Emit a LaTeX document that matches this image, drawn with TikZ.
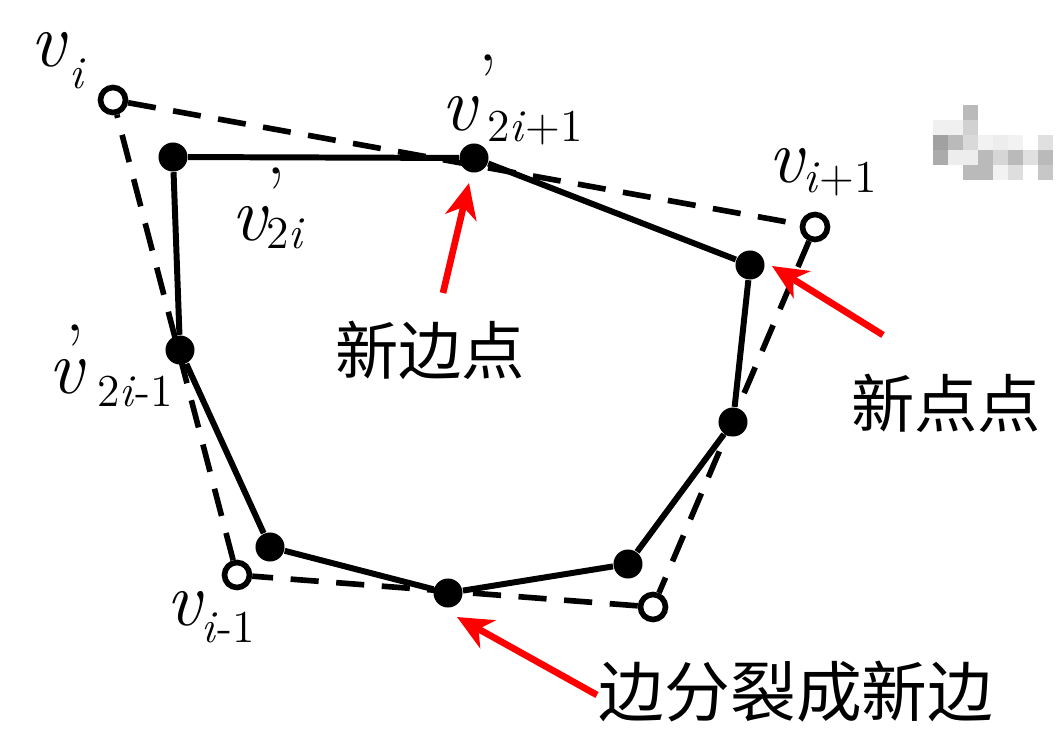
\documentclass[tikz,border=0pt]{standalone}
\usepackage{fontspec}
\newfontfamily\cjk{Noto Sans CJK SC}
\usetikzlibrary{arrows.meta}
\newcommand\vv{{\rmfamily\fontsize{22}{22}\selectfont\itshape\addfontfeature{FakeBold=1.2}v}}
\newcommand\sbs[2]{\raisebox{-#1}{\rmfamily\fontsize{13}{13}\selectfont\addfontfeature{FakeBold=0.8}#2}}
\begin{document}
\begin{tikzpicture}[x=0.01cm,y=-0.01cm,
  dot/.style={circle,fill=black,inner sep=0pt,minimum size=0.29cm},
  odot/.style={circle,draw=black,fill=white,line width=1.6pt,inner sep=0pt,minimum size=0.25cm},
  solidline/.style={line width=1.7pt,line join=round},
  dashline/.style={line width=1.6pt,dash pattern=on 8pt off 5pt},
  redarrow/.style={red,line width=1.9pt,-{Stealth[length=10pt,width=9pt,inset=3pt]}},
  lbl/.style={inner sep=0pt,anchor=base west},
  prm/.style={inner sep=0pt,anchor=base,font=\rmfamily\fontsize{22}{22}\selectfont\addfontfeature{FakeBold=1.5}},
  cn/.style={inner sep=0pt,font=\cjk\fontsize{18}{18}\selectfont}]
\useasboundingbox (0,0) rectangle (1060,745);

% blurred mark, top right
\foreach \x/\y/\g in {963/105/27, 933/120/6, 948/120/6, 963/120/18,
  933/135/37, 948/135/27, 963/135/15, 978/135/5, 993/135/7, 1008/135/5, 1038/135/12,
  933/150/33, 948/150/7, 963/150/7, 978/150/27, 993/150/16, 1008/150/27, 1023/150/12, 1038/150/27,
  963/165/27, 978/165/27, 993/165/5, 1008/165/13, 1038/165/22}
  \fill[black!\g] (\x,\y) rectangle +(15,15);

% original vertices
\node[odot] (o1) at (113,100) {};
\node[odot] (o2) at (815,227) {};
\node[odot] (o3) at (653,607) {};
\node[odot] (o4) at (237,575) {};

% new vertices
\node[dot] (d1) at (173,157) {};
\node[dot] (d2) at (474,158) {};
\node[dot] (d3) at (750,265) {};
\node[dot] (d4) at (733,422) {};
\node[dot] (d5) at (628,564) {};
\node[dot] (d6) at (448,593) {};
\node[dot] (d7) at (270,547) {};
\node[dot] (d8) at (180,350) {};

\draw[dashline] (o1) -- (o2);
\draw[dashline] (o2) -- (o3);
\draw[dashline] (o3) -- (o4);
\draw[dashline] (o4) -- (o1);

\draw[solidline] (d1) -- (d2) -- (d3) -- (d4) -- (d5) -- (d6) -- (d7) -- (d8) -- (d1);

% labels
\node[lbl] (lvi) at (30,66) {\vv\kern1pt\sbs{6.5pt}{\textit{i}}};
\node[lbl] (lv2ip1) at (441,130) {\vv\kern3pt\sbs{3.4pt}{2\textit{i}+1}};
\node[prm] (p1) at (488,108) {’};
\node[lbl] (lvip1) at (768,182) {\vv\kern0pt\sbs{3pt}{\textit{i}+1}};
\node[lbl] (lv2i) at (231,240) {\vv\kern0pt\sbs{2.3pt}{2\textit{i}}};
\node[prm] (p2) at (276,221) {’};
\node[lbl] (lv2im1) at (48,393) {\vv\kern4pt\sbs{3.7pt}{2\textit{i}-1}};
\node[prm] (p3) at (75,378) {’};
\node[lbl] (lvim1) at (166,625) {\vv\sbs{5pt}{\textit{i}-1}};

% Chinese annotations
\node[cn] (t1) at (430,350) {新边点};
\node[cn] (t2) at (946,403) {新点点};
\node[cn,font=\cjk\fontsize{18.7}{18.7}\selectfont] (t3) at (796,692) {边分裂成新边};

% red arrows
\coordinate (a1s) at (443,293);
\coordinate (a1e) at (469,183);
\coordinate (a2s) at (883,335);
\coordinate (a2e) at (772,266);
\coordinate (a3s) at (597,695);
\coordinate (a3e) at (457,617);
\draw[redarrow] (a1s) -- (a1e);
\draw[redarrow] (a2s) -- (a2e);
\draw[redarrow] (a3s) -- (a3e);
\end{tikzpicture}
\end{document}
